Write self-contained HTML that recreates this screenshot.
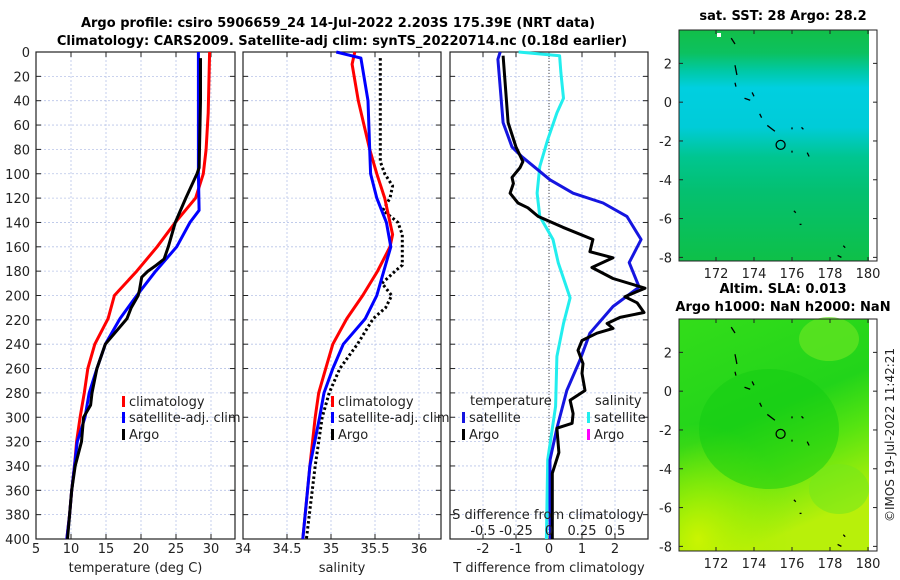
<!DOCTYPE html>
<html><head><meta charset="utf-8"><style>
html,body{margin:0;padding:0;background:#fff;}
svg{display:block;font-family:"DejaVu Sans","Liberation Sans",sans-serif;}
</style></head><body>
<svg id="fig" width="900" height="580" viewBox="0 0 900 580" xmlns="http://www.w3.org/2000/svg">
<defs>
<linearGradient id="sstg" x1="0" y1="0" x2="0" y2="1">
<stop offset="0" stop-color="#12bf48"/><stop offset="0.1" stop-color="#0cc160"/><stop offset="0.18" stop-color="#00c9a8"/><stop offset="0.25" stop-color="#00cfe0"/><stop offset="0.42" stop-color="#00ccd8"/><stop offset="0.55" stop-color="#00c690"/><stop offset="0.7" stop-color="#04c070"/><stop offset="1" stop-color="#0ec048"/></linearGradient>
<linearGradient id="slag" x1="0" y1="0" x2="0.35" y2="1">
<stop offset="0" stop-color="#33dd1a"/><stop offset="0.5" stop-color="#22d41a"/><stop offset="0.7" stop-color="#55e411"/><stop offset="1" stop-color="#b8f00a"/></linearGradient>
<radialGradient id="slay" cx="0.1" cy="0.95" r="0.5"><stop offset="0" stop-color="#d0f500" stop-opacity="0.9"/><stop offset="1" stop-color="#a0ee00" stop-opacity="0"/></radialGradient>
</defs>
<g id="titles" font-weight="bold" font-size="13" text-anchor="middle" fill="#000">
<text x="338" y="27">Argo profile: csiro 5906659_24 14-Jul-2022 2.203S 175.39E (NRT data)</text>
<text x="342" y="45">Climatology: CARS2009. Satellite-adj clim: synTS_20220714.nc (0.18d earlier)</text>
<text x="783" y="20">sat. SST: 28 Argo: 28.2</text>
<text x="783" y="293">Altim. SLA: 0.013</text>
<text x="783" y="311">Argo h1000: NaN h2000: NaN</text>
</g>
<g id="plots"></g>
<text transform="translate(894,435) rotate(-90)" font-size="12" text-anchor="middle" fill="#222">©IMOS 19-Jul-2022 11:42:21</text>
</svg>
<script>
// depths (m)
const tDepth = [0,50,80,100,120,140,160,180,200,219,240,260,280,300,320,340,360,380,400];
const tClim  = [29.8,29.6,29.3,28.9,27.8,24.9,22.3,19.4,16.2,15.3,13.4,12.4,11.9,11.3,10.8,10.5,10.1,9.8,9.4];
const tSatDepth = [0,50,100,130,140,160,180,200,219,240,260,280,300,320,340,360,380,400];
const tSat  = [28.2,28.2,28.2,28.3,27.0,25.1,22.1,19.4,17.0,14.9,13.7,12.6,12.0,10.9,10.5,10.1,9.8,9.4];
const tArgoDepth = [5,40,95,100,120,140,160,170,175,180,185,195,200,210,219,240,260,280,290,300,320,340,360,380,400];
const tArgo = [28.5,28.5,28.3,28.0,26.4,24.9,23.9,23.3,22.2,21.0,20.1,19.8,19.6,18.6,18.0,14.9,13.7,13.0,12.8,11.8,11.5,10.6,10.1,9.8,9.5];

const sDepth = [0,10,40,80,100,120,150,160,180,200,219,240,260,280,300,340,400];
const sClim = [35.27,35.24,35.31,35.44,35.52,35.61,35.70,35.67,35.53,35.36,35.18,35.02,34.94,34.86,34.82,34.76,34.68];
const sSatDepth = [0,5,40,80,100,120,140,160,180,200,219,240,260,280,300,340,400];
const sSat = [35.06,35.34,35.42,35.44,35.45,35.52,35.63,35.68,35.60,35.52,35.39,35.14,35.02,34.92,34.87,34.76,34.68];
const sArgoDepth = [5,90,100,110,120,130,140,150,175,180,190,200,210,219,240,260,280,300,340,400];
const sArgo = [35.56,35.56,35.61,35.70,35.67,35.59,35.76,35.81,35.81,35.73,35.58,35.69,35.62,35.48,35.30,35.10,34.98,34.90,34.82,34.72];

const dSatDepth = [0,6,58,78,86,105,116,124,135,154,173,193,209,231,253,278,309,335,384,400];
const dTSat = [-1.48,-1.55,-1.39,-1.12,-0.82,0.03,0.73,1.64,2.36,2.79,2.43,2.73,1.94,1.24,0.94,0.54,0.24,0.03,0.03,0.05];
const dArgoDepth = [3,58,78,90,95,103,108,116,120,124,128,135,144,154,164,169,177,186,194,201,206,214,218,223,227,231,237,245,256,264,278,286,297,305,309,329,346,374,400];
const dTArgo = [-1.39,-1.24,-1.0,-0.79,-0.88,-1.12,-1.08,-1.18,-1.06,-0.94,-0.64,-0.33,0.42,1.33,1.24,1.94,1.3,1.94,2.91,2.3,2.67,2.88,2.15,1.76,1.94,1.45,1.0,0.88,1.03,1.0,1.09,0.64,0.73,0.7,0.24,0.3,0.1,0.1,0.1];
const dSDepth = [0,3,17,38,50,72,94,116,135,154,173,202,223,250,291,335,400];
const dSSat = [-0.23,0.08,0.09,0.11,0.06,-0.01,-0.07,-0.09,-0.07,0.03,0.07,0.16,0.11,0.06,0.05,-0.01,-0.02];

const depthTicks = [0,20,40,60,80,100,120,140,160,180,200,220,240,260,280,300,320,340,360,380,400];
const tTicks = [5,10,15,20,25,30];
const sTicks = [34,34.5,35,35.5,36];
const dTicks = [-2,-1,0,1,2];
const dsTicks = [-0.5,-0.25,0,0.25,0.5];
const dsTickLabels = ["-0.5","-0.25","0","0.25","0.5"];
const latTicks = [2,0,-2,-4,-6,-8];
const lonTicks = [172,174,176,178,180];

const NS="http://www.w3.org/2000/svg";
const root=document.getElementById('plots');
function mk(tag,attrs,parent){const e=document.createElementNS(NS,tag);for(const k in attrs)e.setAttribute(k,attrs[k]);(parent||root).appendChild(e);return e;}
const Y0=52,Y1=539;
const yD=d=>Y0+d*(Y1-Y0)/400;
const P1={x0:36,x1:235,v0:5,sc:7};
const P2={x0:243,x1:441,v0:34,sc:88};
const P3={x0:450,x1:648,v0:-3,sc:33};
const xP=(p,v)=>p.x0+(v-p.v0)*p.sc;
const xS3=v=>549+v*132;

function panel(p,name,xt,xlab,xtitle){
  const g=mk('g',{});
  
  
  depthTicks.forEach(d=>{const l=mk('line',{x1:p.x0,x2:p.x1,y1:yD(d),y2:yD(d),stroke:'#b8c4e8','stroke-width':0.8,'stroke-dasharray':'2,2'},g);
    
    mk('line',{x1:p.x0,x2:p.x0+5,y1:yD(d),y2:yD(d),stroke:'#222'},g);mk('line',{x1:p.x1-5,x2:p.x1,y1:yD(d),y2:yD(d),stroke:'#222'},g);});
  xt.forEach((v,i)=>{const x=xP(p,v);
    const l=mk('line',{x1:x,x2:x,y1:Y0,y2:Y1,stroke:'#b8c4e8','stroke-width':0.8,'stroke-dasharray':'2,2'},g);
    
    mk('line',{x1:x,x2:x,y1:Y1-5,y2:Y1,stroke:'#222'},g);mk('line',{x1:x,x2:x,y1:Y0,y2:Y0+5,stroke:'#222'},g);
    if(xlab){const t=mk('text',{x:x,y:553,'font-size':13,'text-anchor':'middle',fill:'#222'},g);t.textContent=xlab[i];
      }});
  const r=mk('rect',{x:p.x0,y:Y0,width:p.x1-p.x0,height:Y1-Y0,fill:'none',stroke:'#222','stroke-width':1.2},g);
  
  const tt=mk('text',{x:(p.x0+p.x1)/2,y:572,'font-size':13,'text-anchor':'middle',fill:'#222'},g);tt.textContent=xtitle;
  
  return g;
}
function line(g,xs,ds,fx,color,name,dash,w){
  const pts=xs.map((v,i)=>fx(v).toFixed(1)+','+yD(ds[i]).toFixed(1)).join(' ');
  const a={points:pts,fill:'none',stroke:color,'stroke-width':w||3,'stroke-linejoin':'round'};
  if(dash)a['stroke-dasharray']=dash;
  const e=mk('polyline',a,g);
  
}
function legend(g,x,y,color,label,name){
  const b=mk('rect',{x:x,y:y-10,width:3,height:11,fill:color},g);
  
  const t=mk('text',{x:x+7,y:y,'font-size':13,fill:'#222'},g);t.textContent=label;
  
}
// Panel 1
const g1=panel(P1,'temperature-panel',tTicks,tTicks.map(String),'temperature (deg C)');
depthTicks.forEach(d=>{const t=mk('text',{x:30,y:yD(d)+5,'font-size':13,'text-anchor':'end',fill:'#222'},g1);t.textContent=d;
  });
line(g1,tClim,tDepth,v=>xP(P1,v),'#f00','temp-climatology-line');
line(g1,tSat,tSatDepth,v=>xP(P1,v),'#00f','temp-satellite-line');
line(g1,tArgo,tArgoDepth,v=>xP(P1,v),'#000','temp-argo-line');
legend(g1,122,406,'#f00','climatology','legend-climatology');
legend(g1,122,422,'#00f','satellite-adj. clim','legend-satellite-adj');
legend(g1,122,439,'#000','Argo','legend-argo');
// Panel 2
const g2=panel(P2,'salinity-panel',sTicks,["34","34.5","35","35.5","36"],'salinity');
line(g2,sArgo,sArgoDepth,v=>xP(P2,v),'#000','sal-argo-line','2.5,2.5',3);
line(g2,sClim,sDepth,v=>xP(P2,v),'#f00','sal-climatology-line');
line(g2,sSat,sSatDepth,v=>xP(P2,v),'#00f','sal-satellite-line');
legend(g2,331,406,'#f00','climatology','legend2-climatology');
legend(g2,331,422,'#00f','satellite-adj. clim','legend2-satellite-adj');
legend(g2,331,439,'#000','Argo','legend2-argo');
// Panel 3
const g3=panel(P3,'difference-panel',dTicks,dTicks.map(String),'T difference from climatology');
const z=mk('line',{x1:549,x2:549,y1:Y0,y2:Y1,stroke:'#444','stroke-width':1,'stroke-dasharray':'1,2'},g3);

line(g3,dSSat,dSDepth,xS3,'#22eeee','sal-diff-satellite-line');
line(g3,dTSat,dSatDepth,v=>xP(P3,v),'#1515e0','temp-diff-satellite-line');
line(g3,dTArgo,dArgoDepth,v=>xP(P3,v),'#000','temp-diff-argo-line');
{const t=mk('text',{x:470,y:405,'font-size':13,fill:'#222'},g3);t.textContent='temperature';
 const t2=mk('text',{x:595,y:405,'font-size':13,fill:'#222'},g3);t2.textContent='salinity';}
legend(g3,462,422,'#1515e0','satellite','legend3-temp-satellite');
legend(g3,462,439,'#000','Argo','legend3-temp-argo');
legend(g3,587,422,'#22eeee','satellite','legend3-sal-satellite');
legend(g3,587,439,'#f0f','Argo','legend3-sal-argo');
{const t=mk('text',{x:548,y:519,'font-size':13,'text-anchor':'middle',fill:'#222'},g3);t.textContent='S difference from climatology';
 }
dsTicks.forEach((v,i)=>{const t=mk('text',{x:xS3(v),y:535,'font-size':13,'text-anchor':'middle',fill:'#222'},g3);t.textContent=dsTickLabels[i];
 });

// Maps
function map(y0,y1,fill,name,extra){
  const g=mk('g',{});
  
  const X0=679,X1=877,FX=869;
  const lonX=v=>716+(v-172)*19;
  const latY=v=>y0+(3.72-v)*19.4;
  mk('rect',{x:X0,y:y0,width:FX-X0,height:y1-y0,fill:fill},g);
  if(extra)extra(g,X0,y0,FX-X0,y1-y0);
  [[175.4,-2.2]].forEach(p=>mk('circle',{cx:lonX(p[0]),cy:latY(p[1]),r:4.5,fill:'none',stroke:'#000','stroke-width':1.3},g));
  [[172.8,3.3,173,3.0],[173,1.9,173.1,1.4],[173,1.0,173.05,0.8],[173.5,0.2,173.8,0.1],[173.9,0.5,174,0.3],[174.7,-1.2,175.1,-1.5],[174.3,-0.6,174.4,-0.8],[176,-1.3,176,-1.4],[176.5,-1.3,176.6,-1.4],[176,-2.5,176,-2.6],[176.8,-2.6,176.9,-2.8],[176.1,-5.6,176.2,-5.7],[176.4,-6.3,176.5,-6.3],[178.4,-7.9,178.6,-8.0],[178.7,-7.4,178.8,-7.5]].forEach(s=>
    mk('line',{x1:lonX(s[0]),y1:latY(s[1]),x2:lonX(s[2]),y2:latY(s[3]),stroke:'#000','stroke-width':1.3},g));
  mk('rect',{x:X0,y:y0,width:X1-X0,height:y1-y0,fill:'none',stroke:'#222','stroke-width':1},g);
  latTicks.forEach(v=>{const y=latY(v);mk('line',{x1:X0,x2:X0+4,y1:y,y2:y,stroke:'#222'},g);mk('line',{x1:X1-4,x2:X1,y1:y,y2:y,stroke:'#222'},g);
    const t=mk('text',{x:672,y:y+5,'font-size':13,'text-anchor':'end',fill:'#222'},g);t.textContent=v;
    });
  lonTicks.forEach(v=>{const x=lonX(v);mk('line',{x1:x,x2:x,y1:y1-4,y2:y1,stroke:'#222'},g);mk('line',{x1:x,x2:x,y1:y0,y2:y0+4,stroke:'#222'},g);
    const t=mk('text',{x:x,y:y1+17,'font-size':13,'text-anchor':'middle',fill:'#222'},g);t.textContent=v;
    });
}
map(30,261,'url(#sstg)','sst-map',(g,x,y,w,h)=>{mk('rect',{x:x+38,y:y+3,width:4,height:4,fill:'#fff'},g);});
map(319,551,'url(#slag)','sla-map',(g,x,y,w,h)=>{
  mk('rect',{x:x,y:y,width:w,height:h,fill:'url(#slay)'},g);
  mk('ellipse',{cx:x+150,cy:y+20,rx:30,ry:22,fill:'#66e622',opacity:0.7},g);
  mk('ellipse',{cx:x+90,cy:y+110,rx:70,ry:60,fill:'#11cc11',opacity:0.5},g);
  mk('ellipse',{cx:x+160,cy:y+170,rx:30,ry:25,fill:'#77e81a',opacity:0.6},g);
});
</script>
</body></html>
